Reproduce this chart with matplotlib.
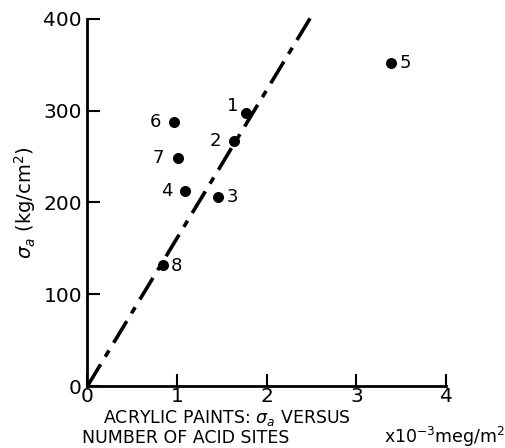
import numpy as np
import matplotlib.pyplot as plt

# Data
labels = ["1", "2", "3", "4", "5", "6", "7", "8"]
acid_sites = [1.77, 1.64, 1.46, 1.09, 3.39, 0.97, 1.01, 0.84]
sigma_a = [298, 267, 206, 212, 352, 288, 248, 132]
fit_x = [0.0, 2.51]
fit_y = [0.0, 405.0]

W, H = 506, 448
fig = plt.figure(figsize=(W / 100, H / 100), dpi=100)
ax = fig.add_axes([87.5 / W, 1 - 386 / H, 358.5 / W, 367 / H])

ax.plot(fit_x, fit_y, color="black", lw=2.6, clip_on=False,
        dashes=[7, 2.5, 2, 2.5])
ax.scatter(acid_sites, sigma_a, s=48, color="black", zorder=3, clip_on=False)

# point labels: some to the left, some to the right
offsets = {"1": (-10, 5), "2": (-14, 0), "3": (10, 0), "4": (-13, 0),
           "5": (10, 0), "6": (-14, 0), "7": (-14, 0), "8": (10, -1)}
for lab, x, y in zip(labels, acid_sites, sigma_a):
    dx, dy = offsets[lab]
    ax.annotate(lab, (x, y), xytext=(dx, dy), textcoords="offset points",
                ha="center", va="center", fontsize=13)

ax.set_xlim(0, 4)
ax.set_ylim(0, 400)
ax.set_xticks([0, 1, 2, 3, 4])
ax.set_yticks([0, 100, 200, 300, 400])
ax.spines["top"].set_visible(False)
ax.spines["right"].set_visible(False)
ax.spines["left"].set_linewidth(2)
ax.spines["bottom"].set_linewidth(2)
ax.tick_params(direction="in", length=9, width=1.5, labelsize=14.5)
ax.tick_params(axis="x", pad=1)
ax.tick_params(axis="y", pad=4)

ax.set_ylabel(r"$\sigma_a$ (kg/cm$^2$)", fontsize=14, labelpad=4)

# x-axis caption, placed in pixel positions like the original
fig.text(103 / W, 1 - 418 / H, "ACRYLIC PAINTS: $\\sigma_a$ VERSUS",
         ha="left", va="center", fontsize=12.5)
fig.text(82 / W, 1 - 438 / H, "NUMBER OF ACID SITES",
         ha="left", va="center", fontsize=12.5)
fig.text(505 / W, 1 - 437 / H, "x10$^{-3}$meg/m$^2$",
         ha="right", va="center", fontsize=12.5)

fig.savefig("out.png", dpi=100)
